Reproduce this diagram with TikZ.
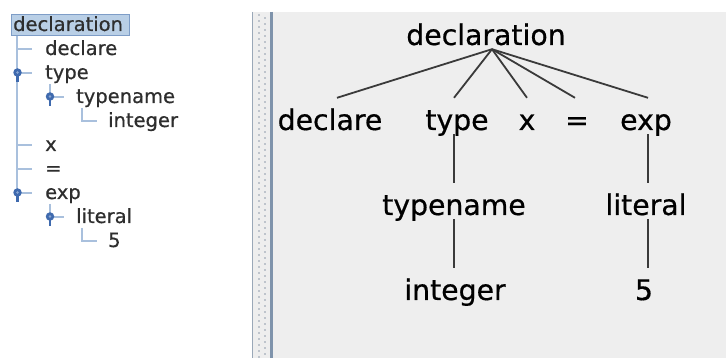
\documentclass[tikz,border=0pt]{standalone}
\usepackage{fontspec}
\setmainfont{DejaVu Sans}[BoldFont=DejaVu Sans, BoldFeatures={FakeBold=0.6}]
\definecolor{panel}{HTML}{EEEEEE}
\definecolor{edgecol}{HTML}{3A3A3A}
\definecolor{guidecol}{HTML}{A9C0DD}
\definecolor{handlecol}{HTML}{3F6AAE}
\definecolor{handlemid}{HTML}{8AA6D2}
\definecolor{boxfill}{HTML}{B9CFE6}
\definecolor{boxdraw}{HTML}{7E9DC7}
\definecolor{lefttext}{HTML}{2E2E2E}
\definecolor{splitlight}{HTML}{9AA8B8}
\definecolor{splitdark}{HTML}{7F93AB}
\definecolor{gripdot}{HTML}{8E9AAA}
\begin{document}
\begin{tikzpicture}[x=1pt,y=-1pt,
  big/.style={font=\fontsize{28.3}{30}\selectfont\bfseries, anchor=base, inner sep=0pt, text height=32pt, text depth=4pt},
  small/.style={font=\fontsize{19.5}{21}\selectfont\bfseries, text=lefttext, anchor=base west, inner sep=0pt},
  edge/.style={draw=edgecol, line width=1.8pt},
  guide/.style={draw=guidecol, line width=1.3pt},
  stem/.style={draw=handlecol, line width=2.6pt},
  knob/.style={circle, fill=handlecol, minimum size=8.5pt, inner sep=0pt, draw=none}
]
\useasboundingbox (0,0) rectangle (726,358);
\fill[white] (0,0) rectangle (726,358);
% right panel and splitter
\fill[panel] (253,12) rectangle (726,358);
\draw[splitlight, line width=1.5pt] (252.5,12) -- (252.5,358);
\draw[splitdark, line width=3pt] (271.3,12) -- (271.3,358);
\foreach \k in {0,...,57} {
  \fill[gripdot] (259,15+6*\k) circle [radius=0.9pt];
  \fill[gripdot] (265,18+6*\k) circle [radius=0.9pt];
}
% ---------- left tree view ----------
\filldraw[fill=boxfill, draw=boxdraw, line width=1pt] (11,15) rectangle (129,36);
\node[small] (l0) at (13,31) {declaration};
\draw[guide] (17,36) -- (17,193);
% declare
\draw[guide] (17,49) -- (32,49);
\node[small] (l1) at (45,55) {declare};
% type
\draw[guide] (17,73) -- (32,73);
\draw[stem] (17.5,73) -- (17.5,82);
\node[knob] (k2) at (17.5,72.5) {};
\fill[handlemid] (k2) circle [radius=1.3pt];
\node[small] (l2) at (45,79) {type};
% typename
\draw[guide] (50,84) -- (50,97) -- (64,97);
\draw[stem] (50,97) -- (50,106);
\node[knob] (k3) at (50,96.5) {};
\fill[handlemid] (k3) circle [radius=1.3pt];
\node[small] (l3) at (76,103) {typename};
% integer
\draw[guide] (82,108) -- (82,121) -- (97,121);
\node[small] (l4) at (108,127) {integer};
% x
\draw[guide] (17,145) -- (32,145);
\node[small] (l5) at (45,151) {x};
% =
\draw[guide] (17,169) -- (32,169);
\node[small] (l6) at (45,175) {=};
% exp
\draw[guide] (17,193) -- (32,193);
\draw[stem] (17.5,193) -- (17.5,202);
\node[knob] (k7) at (17.5,192.5) {};
\fill[handlemid] (k7) circle [radius=1.3pt];
\node[small] (l7) at (45,199) {exp};
% literal
\draw[guide] (50,204) -- (50,217) -- (64,217);
\draw[stem] (50,217) -- (50,226);
\node[knob] (k8) at (50,216.5) {};
\fill[handlemid] (k8) circle [radius=1.3pt];
\node[small] (l8) at (76,223) {literal};
% 5
\draw[guide] (82,228) -- (82,241) -- (97,241);
\node[small] (l9) at (108,247) {5};
% ---------- right tree drawing ----------
\node[big] (r0) at (486,45) {declaration};
\node[big] (r1) at (330,130) {declare};
\node[big] (r2) at (457,130) {type};
\node[big] (r3) at (527,130) {x};
\node[big] (r4) at (577,130) {=};
\node[big] (r5) at (646,130) {exp};
\node[big] (r6) at (454,215) {typename};
\node[big] (r7) at (646,215) {literal};
\node[big] (r8) at (455,300) {integer};
\node[big] (r9) at (644,300) {5};
\coordinate (apex) at ([xshift=6pt]r0.south);
\draw[edge] (apex) -- ([xshift=7pt]r1.north);
\draw[edge] (apex) -- ([xshift=-3pt]r2.north);
\draw[edge] (apex) -- (r3.north);
\draw[edge] (apex) -- ([xshift=-2pt]r4.north);
\draw[edge] (apex) -- ([xshift=2pt]r5.north);
\draw[edge] (r6.north |- r2.south) -- (r6.north);
\draw[edge] ([xshift=2pt]r7.north |- r5.south) -- ([xshift=2pt]r7.north);
\draw[edge] (r6.south) -- (r6.south |- r8.north);
\draw[edge] ([xshift=2pt]r7.south) -- ([xshift=2pt]r7.south |- r9.north);
\end{tikzpicture}
\end{document}
